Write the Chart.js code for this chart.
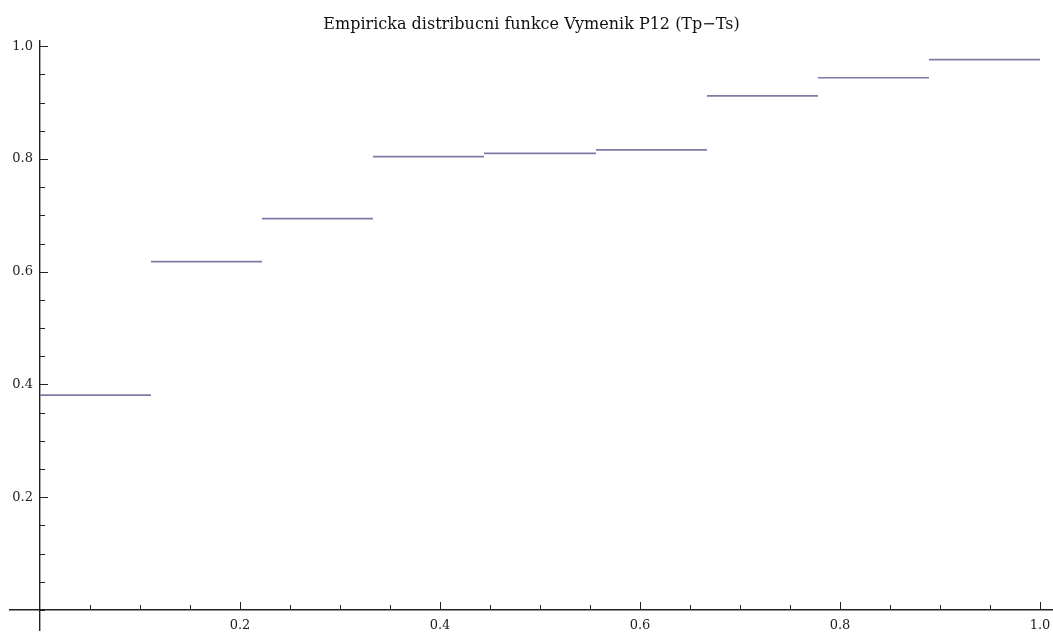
<!DOCTYPE html>
<html>
<head>
<meta charset="utf-8">
<script src="https://cdn.jsdelivr.net/npm/chart.js@4/dist/chart.umd.min.js"></script>
<style>
  html, body { margin: 0; padding: 0; background: #ffffff; }
  #wrap { width: 1053px; height: 634px; position: relative; }
</style>
</head>
<body>
<div id="wrap"><canvas id="c"></canvas></div>
<script>
// ---- data ----
const titleText = "Empiricka distribucni funkce Vymenik P12 (Tp\u2212Ts)";
const stepEdges = [0, 0.111, 0.222, 0.333, 0.444, 0.556, 0.667, 0.778, 0.889, 1.0];
const stepValues = [0.381, 0.618, 0.694, 0.804, 0.810, 0.816, 0.912, 0.944, 0.976];
const xTickLabels = ["0.2", "0.4", "0.6", "0.8", "1.0"];
const yTickLabels = ["0.2", "0.4", "0.6", "0.8", "1.0"];

// build segment points (null breaks between horizontal steps)
const segPoints = [];
for (let i = 0; i < stepValues.length; i++) {
  segPoints.push({ x: stepEdges[i], y: stepValues[i] });
  segPoints.push({ x: stepEdges[i + 1], y: stepValues[i] });
  segPoints.push({ x: stepEdges[i + 1], y: null });
}

const AXIS_COLOR = '#222222';
const LABEL_FONT = { family: 'DejaVu Serif', size: 13 };
const X_MIN = -0.03, X_MAX = 1.013;
const Y_MIN = -0.0355, Y_MAX = 1.0106;

function labelFor(list) {
  return function (v) {
    const s = (Math.round(v * 100) / 100).toFixed(1);
    return list.includes(s) && Math.abs(v - parseFloat(s)) < 1e-6 ? s : '';
  };
}
function noSpace(horizontal) {
  return function (s) {
    if (horizontal) s.height = 0; else s.width = 0;
    s.paddingLeft = 0; s.paddingRight = 0; s.paddingTop = 0; s.paddingBottom = 0;
  };
}

const tickMarks = {
  id: 'tickMarks',
  afterDraw(chart) {
    const ctx = chart.ctx;
    const xs = chart.scales.x, ys = chart.scales.y;
    const x0 = xs.getPixelForValue(0);
    const y0 = ys.getPixelForValue(0);
    ctx.save();
    ctx.strokeStyle = AXIS_COLOR;
    ctx.lineWidth = 1;
    chart.scales.yLab.ticks.forEach(t => {
      if (t.value < -1e-9 || t.value > 1 + 1e-9) return;
      const major = t.label !== '';
      const p = Math.round(ys.getPixelForValue(t.value)) + 0.5;
      ctx.beginPath();
      ctx.moveTo(x0, p);
      ctx.lineTo(x0 + (major ? 8 : 5), p);
      ctx.stroke();
    });
    xs.ticks.forEach(t => {
      if (t.value < 1e-9 || t.value > 1 + 1e-9) return;
      const major = t.label !== '';
      const p = Math.round(xs.getPixelForValue(t.value)) + 0.5;
      ctx.beginPath();
      ctx.moveTo(p, y0);
      ctx.lineTo(p, y0 - (major ? 8 : 5));
      ctx.stroke();
    });
    ctx.restore();
  }
};

new Chart(document.getElementById('c'), {
  type: 'scatter',
  data: {
    datasets: [{
      data: segPoints,
      xAxisID: 'x',
      yAxisID: 'y',
      showLine: true,
      spanGaps: false,
      borderColor: '#7b7ba6',
      borderWidth: 1.7,
      pointRadius: 0,
      pointHoverRadius: 0,
      tension: 0
    }]
  },
  options: {
    responsive: true,
    maintainAspectRatio: false,
    animation: false,
    events: [],
    layout: { padding: { left: 10, right: 0, top: 0, bottom: 4 } },
    plugins: {
      legend: { display: false },
      tooltip: { enabled: false },
      title: {
        display: true,
        text: titleText,
        fullSize: false,
        color: '#111111',
        font: { family: 'DejaVu Serif', size: 16, weight: 'normal' },
        padding: { top: 15, bottom: 6 }
      }
    },
    scales: {
      x: {
        type: 'linear',
        min: X_MIN,
        max: X_MAX,
        position: { y: 0 },
        afterFit: noSpace(true),
        grid: { display: true, color: 'rgba(0,0,0,0)', drawTicks: false, drawOnChartArea: false },
        border: { display: true, color: AXIS_COLOR, width: 1.4 },
        ticks: {
          stepSize: 0.05,
          includeBounds: false,
          autoSkip: false,
          maxRotation: 0,
          padding: 8,
          color: '#222222',
          font: LABEL_FONT,
          callback: labelFor(xTickLabels)
        }
      },
      xLab: {
        type: 'linear',
        display: false,
        min: X_MIN,
        max: X_MAX,
        position: 'top',
        afterFit: noSpace(true)
      },
      y: {
        type: 'linear',
        min: Y_MIN,
        max: Y_MAX,
        position: { x: 0 },
        afterFit: noSpace(false),
        grid: { display: true, color: 'rgba(0,0,0,0)', drawTicks: false, drawOnChartArea: false },
        border: { display: true, color: AXIS_COLOR, width: 1.4 },
        ticks: { display: false, stepSize: 0.05, includeBounds: false }
      },
      yLab: {
        type: 'linear',
        min: Y_MIN,
        max: Y_MAX,
        position: { x: -0.007 },
        afterFit: noSpace(false),
        grid: { display: true, color: 'rgba(0,0,0,0)', drawTicks: false, drawOnChartArea: false },
        border: { display: false },
        ticks: {
          stepSize: 0.05,
          includeBounds: false,
          autoSkip: false,
          padding: 0,
          color: '#222222',
          font: LABEL_FONT,
          callback: labelFor(yTickLabels)
        }
      }
    }
  },
  plugins: [tickMarks]
});
</script>
</body>
</html>
